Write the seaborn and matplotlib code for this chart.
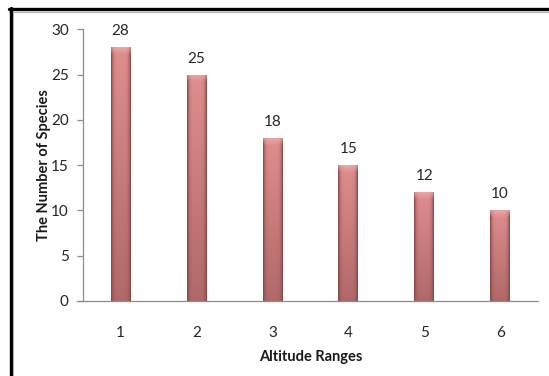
import numpy as np
import pandas as pd
import matplotlib
matplotlib.use("Agg")
import matplotlib.pyplot as plt
from matplotlib.lines import Line2D
from matplotlib.colors import to_rgb
import seaborn as sns

# Species counts per altitude range
altitude_ranges = ["1", "2", "3", "4", "5", "6"]
species_counts = [28, 25, 18, 15, 12, 10]

df = pd.DataFrame({"Altitude Ranges": altitude_ranges,
                   "The Number of Species": species_counts})

sns.set_theme(style="white")
plt.rcParams["font.family"] = ["Lato", "DejaVu Sans"]

fig = plt.figure(figsize=(5.49, 3.76), dpi=100)
ax = fig.add_axes([0.1506, 0.1995, 0.8294, 0.7225])

sns.barplot(data=df, x="Altitude Ranges", y="The Number of Species",
            color="#C97878", width=0.26, saturation=1, ax=ax, zorder=2)

ax.set_ylim(0, 30)
ax.set_yticks([0, 5, 10, 15, 20, 25, 30])

# Shaded fill for each bar: darker edges, lighter top bevel, fading downward
edge_c = np.array(to_rgb("#874444"))
mid_top = np.array(to_rgb("#E08E8E"))
mid_bot = np.array(to_rgb("#B06969"))
bevel_c = np.array(to_rgb("#F4B8B8"))
px_per_unit = 271.7 / 30.0
for patch in ax.patches:
    x0, y0 = patch.get_x(), patch.get_y()
    w, h = patch.get_width(), patch.get_height()
    nrows = max(int(h * px_per_unit), 2)
    ncols = 40
    xs = np.linspace(-1, 1, ncols)
    hprof = np.clip(np.abs(xs) ** 5, 0, 1)[None, :, None]
    t = np.linspace(0, 1, nrows)[:, None, None]  # 0 = top
    mid = mid_top * (1 - t) + mid_bot * t
    img = mid * (1 - hprof) + edge_c * hprof
    bevel_rows = min(7, nrows // 2)
    for r in range(bevel_rows):
        a = 0.55 * (1 - r / bevel_rows)
        img[r] = img[r] * (1 - a) + bevel_c * a
    im = ax.imshow(img, extent=[x0, x0 + w, y0, y0 + h], aspect="auto",
                   origin="upper", zorder=3, interpolation="bilinear")
    im.set_clip_path(patch)
    patch.set_edgecolor("none")

# Value labels above bars
for i, v in enumerate(species_counts):
    ax.annotate(str(v), xy=(i, v), xytext=(0, 11.5), textcoords="offset points",
                ha="center", va="center", fontsize=11, color="#262626")

ax.set_xlim(-0.5, 5.5)
for s in ["top", "right", "bottom"]:
    ax.spines[s].set_visible(False)
ax.spines["left"].set_color("#8C8C8C")
ax.spines["left"].set_linewidth(0.9)
ax.add_line(Line2D([-5.5 / 455, 1], [0, 0], transform=ax.transAxes,
                   color="#8C8C8C", lw=0.9, clip_on=False, zorder=4))

ax.tick_params(axis="y", which="both", left=True, length=4, width=0.9,
               color="#8C8C8C", direction="out", pad=6, labelsize=11,
               labelcolor="#262626")
ax.tick_params(axis="x", bottom=False, pad=12, labelsize=11,
               labelcolor="#262626")

ax.set_xlabel("Altitude Ranges", fontsize=10.5, fontweight="bold",
              color="#1a1a1a", labelpad=7)
ax.set_ylabel("The Number of Species", fontsize=10.5, fontweight="bold",
              color="#1a1a1a", labelpad=0)

# Outer frame: thick black lines along top and left with a light shadow
fig.add_artist(Line2D([9 / 549, 1], [1 - 9 / 376, 1 - 9 / 376],
                      transform=fig.transFigure, color="black", lw=2.4))
fig.add_artist(Line2D([9 / 549, 1], [1 - 11.5 / 376, 1 - 11.5 / 376],
                      transform=fig.transFigure, color="#B0B0B0", lw=0.8))
fig.add_artist(Line2D([10.5 / 549, 10.5 / 549], [0, 1 - 8 / 376],
                      transform=fig.transFigure, color="black", lw=2.4))
fig.add_artist(Line2D([13 / 549, 13 / 549], [0, 1 - 11 / 376],
                      transform=fig.transFigure, color="#B0B0B0", lw=0.8))

fig.savefig("out.png", dpi=100)
